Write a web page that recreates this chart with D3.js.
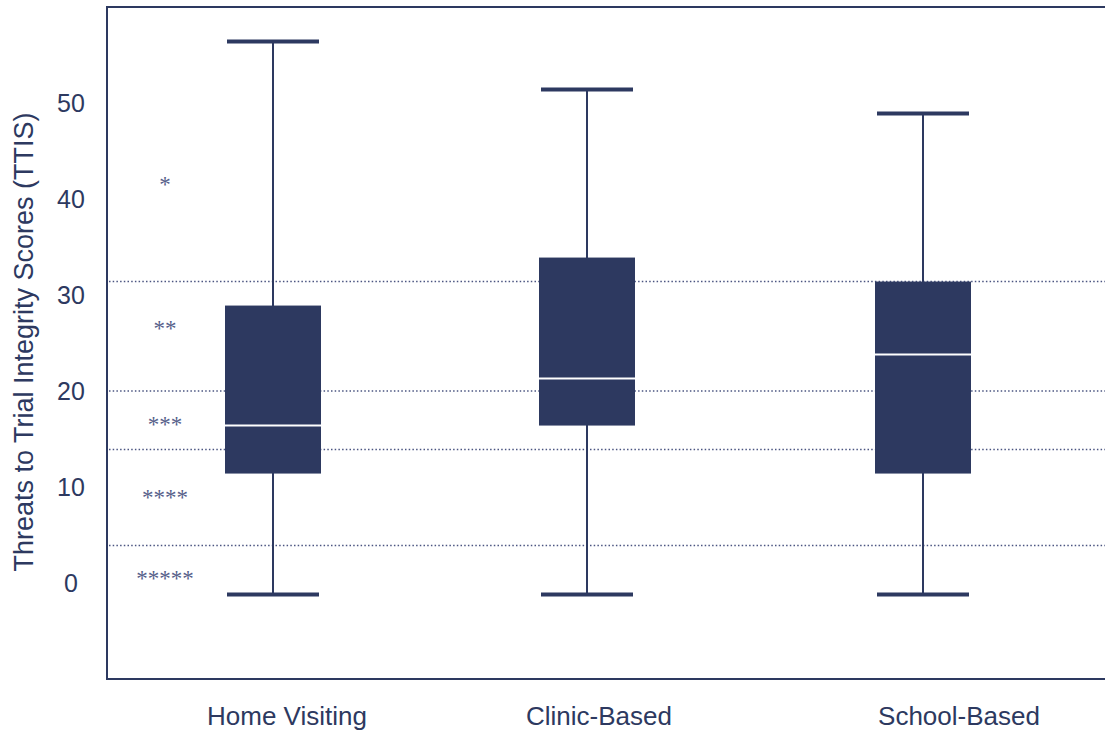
<!DOCTYPE html>
<html>
<head>
<meta charset="utf-8">
<script src="https://cdn.jsdelivr.net/npm/d3@7"></script>
<style>
  html, body { margin: 0; padding: 0; background: #ffffff; }
  svg { display: block; }
</style>
</head>
<body>
<svg id="chart" width="1105" height="732"></svg>
<script>
// Study settings and their score distributions (TTIS)
const categories = ["Home Visiting", "Clinic-Based", "School-Based"];
const whiskerLow  = [-1.2, -1.2, -1.2];
const quartile1   = [11.4, 16.4, 11.4];
const medians     = [16.4, 21.3, 23.8];
const quartile3   = [28.9, 33.9, 31.4];
const whiskerHigh = [56.4, 51.4, 48.9];

// Rating bands: dotted cut-offs and the star rating drawn in each band
const cutoffs = [31.4, 20, 13.9, 3.9];
const starLabels = ["*", "**", "***", "****", "*****"];
const starValues = [41.8, 26.8, 16.8, 9.2, 0.8];

const yTicks = [0, 10, 20, 30, 40, 50];
const yTitle = "Threats to Trial Integrity Scores (TTIS)";

const navy = "#2d3960";
const svg = d3.select("#chart");

const plotLeft = 107, plotTop = 7, plotBottom = 679, plotRight = 1105;

const y = d3.scaleLinear().domain([-10, 60]).range([plotBottom, plotTop]);
// box centres and label centres for the three settings
const x = d3.scaleOrdinal().domain(categories).range([273, 587, 923]);
const xLabel = d3.scaleOrdinal().domain(categories).range([287, 599, 959]);

const boxW = 96, capW = 92;

// dotted cut-off lines
svg.append("g").selectAll("line").data(cutoffs).join("line")
  .attr("x1", plotLeft + 2).attr("x2", plotRight)
  .attr("y1", d => y(d)).attr("y2", d => y(d))
  .attr("stroke", "#4b5581").attr("stroke-width", 1.5)
  .attr("stroke-dasharray", "1.5,2.2");

// star ratings
svg.append("g").selectAll("text").data(starLabels).join("text")
  .attr("x", 165).attr("y", (d, i) => y(starValues[i]))
  .attr("dy", "0.45em")
  .attr("text-anchor", "middle")
  .attr("font-family", "'Liberation Serif', 'Times New Roman', serif")
  .attr("font-size", 23)
  .attr("fill", "#56608a")
  .text(d => d);

const boxes = categories.map((c, i) => ({
  c, lo: whiskerLow[i], q1: quartile1[i], med: medians[i], q3: quartile3[i], hi: whiskerHigh[i]
}));

const g = svg.append("g").selectAll("g").data(boxes).join("g");

// whisker stems
g.append("line")
  .attr("x1", d => x(d.c)).attr("x2", d => x(d.c))
  .attr("y1", d => y(d.hi)).attr("y2", d => y(d.lo))
  .attr("stroke", navy).attr("stroke-width", 2);

// whisker caps
g.selectAll("line.cap").data(d => [d.hi, d.lo].map(v => ({ c: d.c, v }))).join("line")
  .attr("class", "cap")
  .attr("x1", d => x(d.c) - capW / 2).attr("x2", d => x(d.c) + capW / 2)
  .attr("y1", d => y(d.v)).attr("y2", d => y(d.v))
  .attr("stroke", navy).attr("stroke-width", 4);

// interquartile boxes
g.append("rect")
  .attr("x", d => x(d.c) - boxW / 2).attr("width", boxW)
  .attr("y", d => y(d.q3)).attr("height", d => y(d.q1) - y(d.q3))
  .attr("fill", navy);

// medians
g.append("line")
  .attr("x1", d => x(d.c) - boxW / 2).attr("x2", d => x(d.c) + boxW / 2)
  .attr("y1", d => y(d.med)).attr("y2", d => y(d.med))
  .attr("stroke", "#ffffff").attr("stroke-width", 2);

// frame: left, top and bottom edges
svg.append("path")
  .attr("d", `M${plotRight},${plotTop}H${plotLeft}V${plotBottom}H${plotRight}`)
  .attr("fill", "none").attr("stroke", navy).attr("stroke-width", 2);

// y tick labels
svg.append("g").selectAll("text").data(yTicks).join("text")
  .attr("x", 71).attr("y", d => y(d)).attr("dy", "0.36em")
  .attr("text-anchor", "middle")
  .attr("font-family", "'Liberation Sans', Arial, sans-serif")
  .attr("font-size", 25).attr("fill", navy)
  .text(d => d);

// category labels
svg.append("g").selectAll("text").data(categories).join("text")
  .attr("x", d => xLabel(d)).attr("y", 725)
  .attr("text-anchor", "middle")
  .attr("font-family", "'Liberation Sans', Arial, sans-serif")
  .attr("font-size", 26).attr("fill", navy)
  .text(d => d);

// y axis title
svg.append("text")
  .attr("transform", "translate(33,342) rotate(-90)")
  .attr("text-anchor", "middle")
  .attr("font-family", "'Liberation Sans', Arial, sans-serif")
  .attr("font-size", 27).attr("fill", navy)
  .text(yTitle);
</script>
</body>
</html>
